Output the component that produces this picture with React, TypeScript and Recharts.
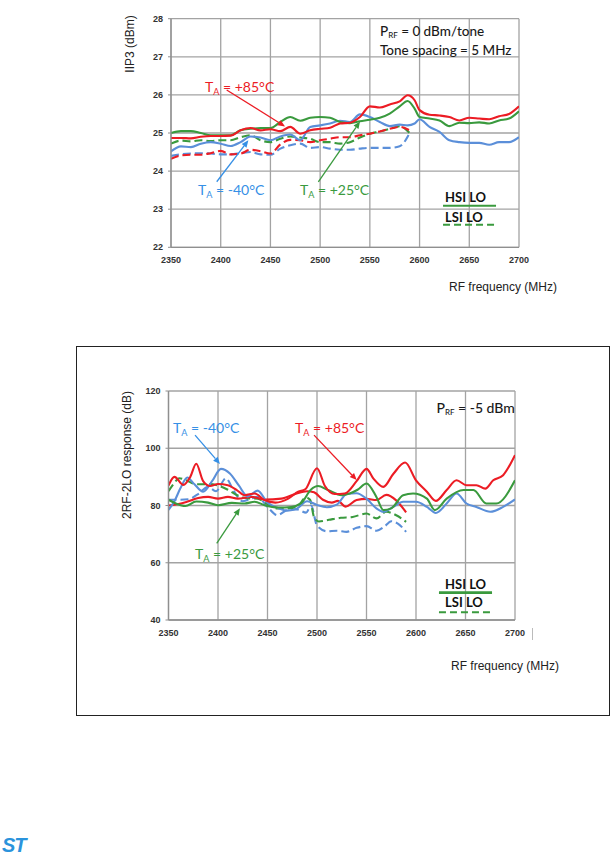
import React from 'react';
import { LineChart, Line, XAxis, YAxis, CartesianGrid, ReferenceLine, ReferenceDot } from 'recharts';

const RED = '#ec1c24';
const GREEN = '#3a9a3e';
const BLUE = '#5b8fd9';
const BLUE_TXT = '#3690e6';
const GRID = '#a3a3a3';
const ANNOT_FONT = 'Lato, "Open Sans", sans-serif';
const AXIS_FONT = '"Liberation Sans", Arial, sans-serif';

// ---------- shared x axis ----------
const freqTicks = [2350, 2400, 2450, 2500, 2550, 2600, 2650, 2700];

// ---------- chart 1: IIP3 vs RF frequency ----------
const iip3Ticks = [22, 23, 24, 25, 26, 27, 28];
const iip3FreqHsi = [2350, 2360, 2370, 2380, 2390, 2400, 2410, 2420, 2430, 2440, 2450, 2460, 2470, 2480, 2490, 2500, 2510, 2520, 2530, 2540, 2550, 2560, 2570, 2580, 2588, 2595, 2600, 2610, 2620, 2630, 2640, 2650, 2660, 2670, 2680, 2690, 2700];
const iip3RedHsi = [24.87, 24.87, 24.86, 24.9, 24.92, 24.92, 24.93, 25.07, 25.13, 25.07, 25.1, 25.05, 25.16, 24.98, 25.07, 25.11, 25.14, 25.25, 25.27, 25.42, 25.7, 25.67, 25.75, 25.83, 25.99, 25.86, 25.6, 25.48, 25.46, 25.42, 25.33, 25.4, 25.38, 25.36, 25.44, 25.5, 25.7];
const iip3GreenHsi = [25.0, 25.05, 25.05, 25.0, 24.94, 24.94, 24.94, 25.07, 25.11, 25.13, 25.13, 25.29, 25.42, 25.32, 25.4, 25.42, 25.4, 25.29, 25.26, 25.31, 25.35, 25.4, 25.51, 25.7, 25.84, 25.64, 25.42, 25.38, 25.33, 25.18, 25.27, 25.26, 25.28, 25.25, 25.33, 25.38, 25.57];
const iip3BlueHsi = [24.52, 24.65, 24.63, 24.72, 24.76, 24.72, 24.66, 24.76, 24.91, 24.88, 24.81, 24.91, 24.96, 24.81, 25.16, 25.2, 25.25, 25.32, 25.29, 25.49, 25.42, 25.29, 25.18, 25.22, 25.2, 25.25, 25.36, 25.16, 25.03, 24.81, 24.76, 24.74, 24.74, 24.69, 24.76, 24.76, 24.89];
const iip3FreqLsi = [2350, 2360, 2370, 2380, 2390, 2400, 2410, 2420, 2430, 2440, 2450, 2460, 2470, 2480, 2490, 2500, 2510, 2520, 2530, 2540, 2550, 2560, 2570, 2580, 2590];
const iip3RedLsi = [24.32, 24.41, 24.43, 24.43, 24.47, 24.53, 24.44, 24.46, 24.56, 24.52, 24.46, 24.7, 24.82, 24.81, 24.76, 24.81, 24.85, 24.89, 24.89, 24.94, 24.98, 25.04, 25.11, 25.16, 25.07];
const iip3GreenLsi = [24.72, 24.8, 24.78, 24.81, 24.79, 24.81, 24.81, 24.89, 24.94, 24.81, 24.76, 24.85, 24.91, 24.88, 24.85, 24.76, 24.76, 24.72, 24.76, 24.88, 24.98, 25.04, 25.11, 25.18, 25.0];
const iip3BlueLsi = [24.4, 24.44, 24.46, 24.47, 24.46, 24.44, 24.44, 24.47, 24.5, 24.44, 24.43, 24.59, 24.68, 24.72, 24.61, 24.63, 24.59, 24.56, 24.56, 24.59, 24.61, 24.61, 24.61, 24.65, 25.0];

// ---------- chart 2: 2RF-2LO response vs RF frequency ----------
const rejTicks = [40, 60, 80, 100, 120];
const rejRedHsi: [number, number][] = [[2350, 87], [2356, 90], [2365, 87.2], [2372, 90], [2378, 94.6], [2385, 88.5], [2392, 86.8], [2400, 87.5], [2410, 87.1], [2419, 85.4], [2427, 83.6], [2437, 84.2], [2447, 81.9], [2458, 81], [2471, 82.4], [2481, 84.8], [2488, 85.6], [2500, 93], [2508, 86.8], [2518, 84], [2528, 84.2], [2540, 88.5], [2550, 92.8], [2557, 89.4], [2567, 86.5], [2577, 91], [2589, 95], [2600, 88.8], [2611, 84.8], [2620, 81.6], [2631, 85.4], [2641, 88.8], [2651, 87.1], [2661, 87.1], [2670, 85.9], [2678, 88.8], [2688, 90.6], [2700, 97.6]];
const rejRedLsi: [number, number][] = [[2350, 80], [2360, 80.5], [2368, 81.2], [2380, 82.6], [2390, 83], [2400, 82.4], [2410, 83], [2420, 82.4], [2434, 83], [2447, 82.1], [2464, 82.4], [2478, 84], [2490, 85], [2497, 84.6], [2506, 82], [2515, 81], [2521, 81.6], [2529, 79.6], [2540, 81.9], [2550, 82.3], [2560, 81.9], [2570, 83.7], [2580, 81.8], [2590, 77.6]];
const rejGreenHsi: [number, number][] = [[2350, 82], [2358, 80.6], [2367, 79.8], [2378, 81.4], [2390, 81], [2400, 80.1], [2414, 80.9], [2427, 80.7], [2437, 81.3], [2447, 80.1], [2461, 79.3], [2474, 79.5], [2484, 80.8], [2494, 85.6], [2501, 86.8], [2511, 85.4], [2525, 83.6], [2533, 84.2], [2541, 85.5], [2550, 87.7], [2560, 83], [2567, 78.4], [2575, 79], [2587, 83.6], [2597, 84.2], [2611, 82.4], [2619, 78.4], [2631, 82.4], [2648, 85.4], [2658, 85.4], [2671, 80.7], [2681, 80.7], [2700, 88.8]];
const rejGreenLsi: [number, number][] = [[2350, 85], [2355, 87.5], [2361, 89.5], [2368, 88.8], [2378, 87.4], [2390, 87.5], [2400, 87], [2410, 85.5], [2420, 83.5], [2430, 82.5], [2440, 82.4], [2450, 80.5], [2460, 79], [2470, 79], [2480, 79.6], [2489, 82.8], [2493, 82], [2497, 76], [2502, 74.4], [2512, 75], [2524, 75.7], [2536, 76], [2550, 77.2], [2560, 75.5], [2570, 77.8], [2580, 76.6], [2590, 74.3]];
const rejBlueHsi: [number, number][] = [[2350, 78.5], [2356, 81.5], [2362, 86], [2369, 89.8], [2376, 87.5], [2385, 84.8], [2394, 88.5], [2403, 92.8], [2412, 91.2], [2421, 87], [2430, 83.2], [2440, 85.2], [2450, 81], [2460, 79.2], [2470, 78.2], [2480, 79], [2490, 81.5], [2500, 80.2], [2510, 79.4], [2520, 80.3], [2530, 84], [2540, 84.3], [2550, 82.4], [2560, 79], [2567, 77.8], [2577, 79.5], [2587, 81.3], [2600, 81.3], [2611, 79.5], [2620, 77.4], [2631, 80.7], [2641, 84.2], [2651, 80.7], [2661, 79.5], [2675, 77.8], [2688, 79.5], [2700, 82.1]];
const rejBlueLsi: [number, number][] = [[2350, 82], [2360, 82], [2370, 82.2], [2380, 84], [2390, 86.5], [2398, 85], [2408, 89.5], [2416, 85], [2425, 81.5], [2440, 83], [2450, 79.5], [2460, 76.6], [2470, 78.4], [2480, 78.6], [2489, 77.5], [2494, 80], [2500, 73], [2510, 71], [2520, 71.2], [2530, 70.8], [2540, 72.2], [2550, 72.8], [2560, 71.2], [2568, 72.6], [2575, 74.5], [2582, 73.6], [2590, 70.8]];

const fromArrays = (fs: number[], vs: number[]) => fs.map((f, i) => ({ f, v: vs[i] }));
const fromPairs = (ps: [number, number][]) => ps.map(([f, v]) => ({ f, v }));

const Arrow = (props: any) => {
  const { x1, y1, x2, y2, stroke } = props;
  const ang = Math.atan2(y2 - y1, x2 - x1);
  const L = 7;
  const W = 3;
  const bx = x2 - L * Math.cos(ang);
  const by = y2 - L * Math.sin(ang);
  const px = -Math.sin(ang) * W;
  const py = Math.cos(ang) * W;
  return (
    <g>
      <line x1={x1} y1={y1} x2={bx} y2={by} stroke={stroke} strokeWidth={1.3} />
      <polygon points={`${x2},${y2} ${bx + px},${by + py} ${bx - px},${by - py}`} fill={stroke} />
    </g>
  );
};

const textShape = (content: React.ReactNode, color: string, size: number, weight: number | string = 400) => (p: any) => (
  <text x={p.cx} y={p.cy} fill={color} fontSize={size} fontWeight={weight} fontFamily={ANNOT_FONT}>
    {content}
  </text>
);

const ta = (rest: string, size: number) => (
  <>
    T<tspan fontSize={size * 0.65} dy={3}>A</tspan>
    <tspan dy={-3}>{rest}</tspan>
  </>
);

const tickStyle = { fontSize: 9, fontWeight: 700, fill: '#333', fontFamily: AXIS_FONT };

function seriesLine(key: string, data: any[], color: string, dashed: boolean) {
  return (
    <Line
      key={key}
      data={data}
      dataKey="v"
      type="monotone"
      stroke={color}
      strokeWidth={2.1}
      strokeDasharray={dashed ? '8 4' : undefined}
      dot={false}
      activeDot={false}
      isAnimationActive={false}
    />
  );
}

function Iip3Chart() {
  return (
    <LineChart width={614} height={300} margin={{ top: 18.7, right: 95, bottom: 22.7, left: 131 }}>
      <CartesianGrid stroke={GRID} strokeWidth={1.3} />
      <XAxis
        type="number"
        dataKey="f"
        domain={[2350, 2700]}
        ticks={freqTicks}
        allowDataOverflow
        height={30}
        tickLine={false}
        tickSize={0}
        tickMargin={9.5}
        axisLine={{ stroke: '#8f8f8f', strokeWidth: 1.3 }}
        tick={tickStyle}
      />
      <YAxis
        type="number"
        domain={[22, 28]}
        ticks={iip3Ticks}
        allowDataOverflow
        width={40}
        tickSize={3}
        tickMargin={5}
        tickLine={{ stroke: '#8f8f8f' }}
        axisLine={{ stroke: '#8f8f8f', strokeWidth: 1.3 }}
        tick={tickStyle}
      />
      {seriesLine('bl', fromArrays(iip3FreqLsi, iip3BlueLsi), BLUE, true)}
      {seriesLine('gl', fromArrays(iip3FreqLsi, iip3GreenLsi), GREEN, true)}
      {seriesLine('rl', fromArrays(iip3FreqLsi, iip3RedLsi), RED, true)}
      {seriesLine('bh', fromArrays(iip3FreqHsi, iip3BlueHsi), BLUE, false)}
      {seriesLine('gh', fromArrays(iip3FreqHsi, iip3GreenHsi), GREEN, false)}
      {seriesLine('rh', fromArrays(iip3FreqHsi, iip3RedHsi), RED, false)}

      <ReferenceLine segment={[{ x: 2406, y: 26.13 }, { x: 2464.7, y: 25.17 }]} stroke={RED} shape={Arrow} />
      <ReferenceLine segment={[{ x: 2396, y: 23.72 }, { x: 2427.8, y: 24.81 }]} stroke={BLUE_TXT} shape={Arrow} />
      <ReferenceLine segment={[{ x: 2498.2, y: 23.72 }, { x: 2540.1, y: 25.3 }]} stroke={GREEN} shape={Arrow} />

      <ReferenceDot x={2384.2} y={26.07} r={0} shape={textShape(ta(' = +85°C', 14), RED, 14)} />
      <ReferenceDot x={2377.2} y={23.37} r={0} shape={textShape(ta(' = -40°C', 14), BLUE_TXT, 14)} />
      <ReferenceDot x={2479.7} y={23.37} r={0} shape={textShape(ta(' = +25°C', 14), GREEN, 14)} />
      <ReferenceDot
        x={2560.2}
        y={27.55}
        r={0}
        shape={textShape(
          <>
            P<tspan fontSize={8} dy={2}>RF</tspan>
            <tspan dy={-2}> = 0 dBm/tone</tspan>
          </>,
          '#1a1a1a',
          13.5,
          500
        )}
      />
      <ReferenceDot x={2560.2} y={27.05} r={0} shape={textShape('Tone spacing = 5 MHz', '#1a1a1a', 13.5, 500)} />

      <ReferenceDot x={2625.6} y={23.19} r={0} shape={textShape('HSI LO', '#111', 13, 700)} />
      <ReferenceLine segment={[{ x: 2623.6, y: 23.09 }, { x: 2676.9, y: 23.09 }]} stroke={GREEN} strokeWidth={2} />
      <ReferenceDot x={2625.6} y={22.66} r={0} shape={textShape('LSI  LO', '#111', 13, 700)} />
      <ReferenceLine segment={[{ x: 2623.6, y: 22.59 }, { x: 2676.9, y: 22.59 }]} stroke={GREEN} strokeWidth={2} strokeDasharray="7 4" />
    </LineChart>
  );
}

function RejChart() {
  return (
    <LineChart width={614} height={340} margin={{ top: 51, right: 99, bottom: 30, left: 128.5 }}>
      <CartesianGrid stroke={GRID} strokeWidth={1.3} />
      <XAxis
        type="number"
        dataKey="f"
        domain={[2350, 2700]}
        ticks={freqTicks}
        allowDataOverflow
        height={30}
        tickLine={false}
        tickSize={0}
        tickMargin={9.5}
        axisLine={{ stroke: '#8f8f8f', strokeWidth: 1.3 }}
        tick={tickStyle}
      />
      <YAxis
        type="number"
        domain={[40, 120]}
        ticks={rejTicks}
        allowDataOverflow
        width={40}
        tickSize={3}
        tickMargin={5}
        tickLine={{ stroke: '#8f8f8f' }}
        axisLine={{ stroke: '#8f8f8f', strokeWidth: 1.3 }}
        tick={tickStyle}
      />
      {seriesLine('bl', fromPairs(rejBlueLsi), BLUE, true)}
      {seriesLine('gl', fromPairs(rejGreenLsi), GREEN, true)}
      {seriesLine('rl', fromPairs(rejRedLsi), RED, false)}
      {seriesLine('bh', fromPairs(rejBlueHsi), BLUE, false)}
      {seriesLine('gh', fromPairs(rejGreenHsi), GREEN, false)}
      {seriesLine('rh', fromPairs(rejRedHsi), RED, false)}

      <ReferenceLine segment={[{ x: 2376.8, y: 104.6 }, { x: 2402, y: 94.5 }]} stroke={BLUE_TXT} shape={Arrow} />
      <ReferenceLine segment={[{ x: 2497, y: 104.6 }, { x: 2540.1, y: 88.9 }]} stroke={RED} shape={Arrow} />
      <ReferenceLine segment={[{ x: 2398.7, y: 66.8 }, { x: 2422.2, y: 79 }]} stroke={GREEN} shape={Arrow} />

      <ReferenceDot x={2354.5} y={105.3} r={0} shape={textShape(ta(' = -40°C', 14), BLUE_TXT, 14)} />
      <ReferenceDot x={2477.8} y={105.3} r={0} shape={textShape(ta(' = +85°C', 14), RED, 14)} />
      <ReferenceDot x={2376.8} y={61.3} r={0} shape={textShape(ta(' = +25°C', 14), GREEN, 14)} />
      <ReferenceDot
        x={2620.7}
        y={112.3}
        r={0}
        shape={textShape(
          <>
            P<tspan fontSize={8} dy={2}>RF</tspan>
            <tspan dy={-2}> = -5 dBm</tspan>
          </>,
          '#1a1a1a',
          14,
          500
        )}
      />

      <ReferenceDot x={2629.3} y={50.8} r={0} shape={textShape('HSI LO', '#111', 13, 700)} />
      <ReferenceLine segment={[{ x: 2623.2, y: 49.55 }, { x: 2676.8, y: 49.55 }]} stroke={GREEN} strokeWidth={2.7} />
      <ReferenceDot x={2629.3} y={44.4} r={0} shape={textShape('LSI  LO', '#111', 13, 700)} />
      <ReferenceLine segment={[{ x: 2623.2, y: 42.7 }, { x: 2676.8, y: 42.7 }]} stroke={GREEN} strokeWidth={2} strokeDasharray="7 4" />
    </LineChart>
  );
}

const axisTitle: React.CSSProperties = {
  position: 'absolute',
  fontFamily: AXIS_FONT,
  fontSize: 12,
  color: '#222',
  whiteSpace: 'nowrap',
  lineHeight: '14px',
};

export default function App() {
  return (
    <div style={{ position: 'absolute', left: 0, top: 0, width: 614, height: 856, background: '#fff', overflow: 'hidden' }}>
      <div style={{ position: 'absolute', left: 0, top: 0 }}>
        <Iip3Chart />
      </div>
      <div style={{ ...axisTitle, left: 130, top: 44, transform: 'translate(-50%, -50%) rotate(-90deg)' }}>IIP3 (dBm)</div>
      <div style={{ ...axisTitle, right: 614 - 557, top: 280 }}>RF frequency (MHz)</div>

      <div style={{ position: 'absolute', left: 76, top: 346, width: 534, height: 370, border: '1px solid #222', boxSizing: 'border-box' }} />
      <div style={{ position: 'absolute', left: 0, top: 340 }}>
        <RejChart />
      </div>
      <div style={{ position: 'absolute', left: 532, top: 628, width: 1, height: 12, background: '#bbb' }} />
      <div style={{ ...axisTitle, left: 127, top: 455, transform: 'translate(-50%, -50%) rotate(-90deg)' }}>2RF-2LO response (dB)</div>
      <div style={{ ...axisTitle, right: 614 - 559, top: 659 }}>RF frequency (MHz)</div>

      <svg style={{ position: 'absolute', left: 0, top: 832 }} width={40} height={24}>
        <text x={2} y={20} fontFamily={AXIS_FONT} fontStyle="italic" fontWeight={900} fontSize={20} fill="#2a93dc" letterSpacing={-1}>
          ST
        </text>
      </svg>
    </div>
  );
}
